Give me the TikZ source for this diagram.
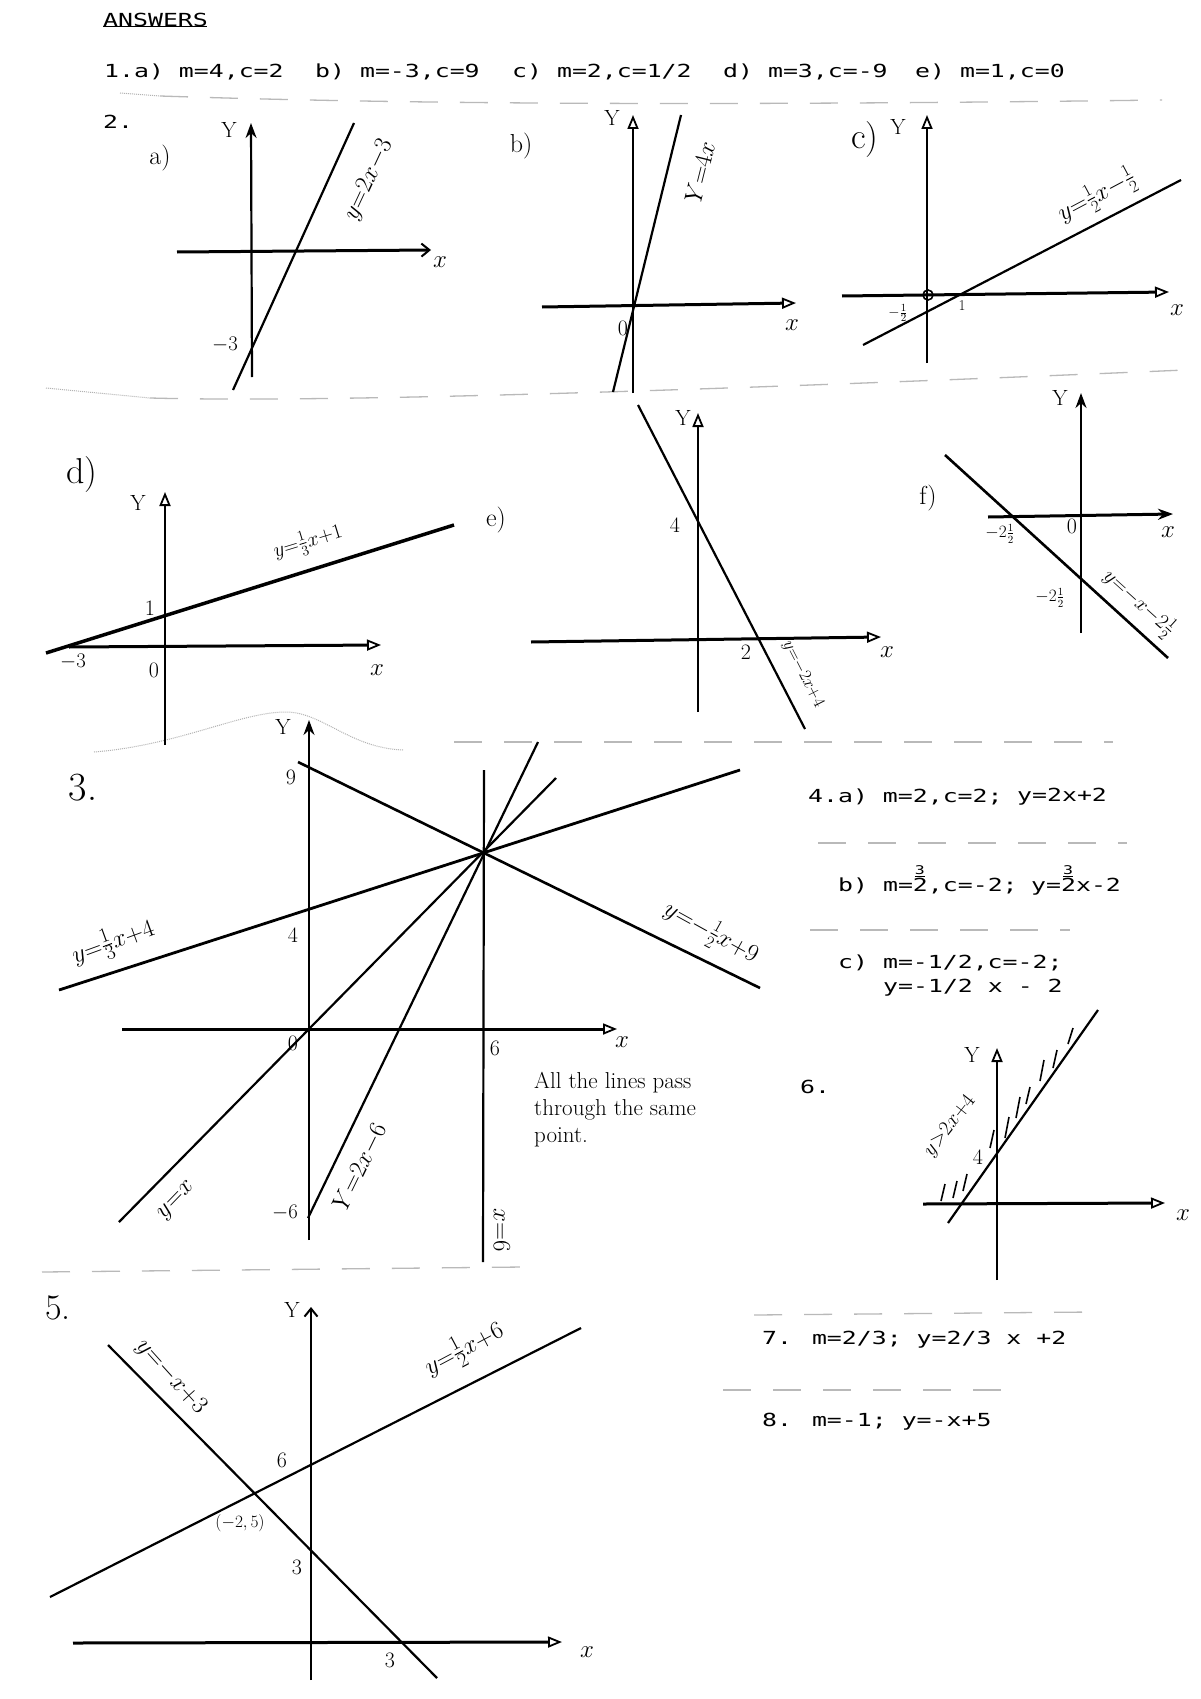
\documentclass[tikz,border=0pt]{standalone}
\usepackage{amsmath}
\usepackage{fontspec}
\usepackage{graphicx}
\newfontfamily\typed{DejaVu Sans Mono}
\usetikzlibrary{arrows.meta}
\newcommand\tx[1]{\scalebox{1.38}[1]{#1}}
\newcommand\tthree{\makebox[0pt][l]{\raisebox{0.95em}{\fontsize{12}{12}\selectfont\kern0.12em\underline{3}}}2}
\begin{document}
\begin{tikzpicture}[x=1pt,y=-1pt,
  ax/.style={line width=2.2pt},
  gl/.style={line width=2.2pt},
  otri/.style={-{Triangle[open,length=14pt,width=11pt,line width=1.8pt]}},
  ftri/.style={-{Stealth[length=15pt,width=11pt]}},
  barb/.style={-{Straight Barb[length=8pt,width=13pt,line width=2pt]}},
  sep/.style={gray!55,line width=1.3pt,dash pattern=on 28pt off 22pt},
  wav/.style={gray!60,line width=1pt,densely dotted},
  tt/.style={font=\typed\fontsize{18}{20}\selectfont,anchor=west,inner sep=0pt},
  hw/.style={font=\fontsize{22}{24}\selectfont,inner sep=0pt},
  hl/.style={font=\fontsize{26}{28}\selectfont,inner sep=0pt},
  big/.style={font=\fontsize{36}{38}\selectfont,inner sep=0pt},
  hat/.style={line width=1.6pt}]
\useasboundingbox (0,0) rectangle (1200,1699);
\fill[white] (0,0) rectangle (1200,1699);

% ---------- typed header ----------
\node[tt] (ans) at (103,20) {\tx{ANSWERS}};
\draw[line width=1pt] (ans.south west) ++(0,-1) -- ++(104,0);
\node[tt] (q1a) at (104,72) {\tx{1.a) m=4,c=2}};
\node[tt] (q1b) at (315,72) {\tx{b) m=-3,c=9}};
\node[tt] (q1c) at (512,72) {\tx{c) m=2,c=1/2}};
\node[tt] (q1d) at (723,72) {\tx{d) m=3,c=-9}};
\node[tt] (q1e) at (915,72) {\tx{e) m=1,c=0}};
\node[tt] (q2) at (103,122) {\tx{2.}};

% ---------- separators ----------
\draw[wav] (120,93) -- (160,96);
\draw[sep] (160,96) .. controls (400,104) and (700,106) .. (1162,100);
\draw[wav] (46,388) -- (150,398);
\draw[sep] (150,398) .. controls (300,402) and (600,395) .. (1185,370);
\draw[wav] (94,752) .. controls (180,745) and (240,712) .. (286,712) .. controls (322,712) and (350,748) .. (403,750);
\draw[sep] (454,742) -- (1113,742);
\draw[sep] (42,1272) -- (523,1267);
\draw[sep] (818,843) -- (1127,843);
\draw[sep] (810,930) -- (1070,930);
\draw[sep] (754,1315) -- (1092,1312);
\draw[sep] (723,1390) -- (1019,1390);

% ---------- 2 a ----------
\node[hl] (la) at (160,158) {a)};
\draw[ax,ftri] (252,377) -- (251,123);
\draw[ax,line width=3pt,barb] (177,252) -- (431,250);
\draw[gl] (233,390) -- (354,123);
\node[hw] (ya) at (229,130) {Y};
\node[hl] (xa) at (440,262) {$x$};
\node[hw] (ma) at (225,345) {$-3$};
\node[hl,rotate=65] (ea) at (369,180) {$y{=}2x{-}3$};

% ---------- 2 b ----------
\node[hl] (lb) at (521,146) {b)};
\draw[ax,otri] (633,393) -- (633,115);
\draw[ax,line width=3pt,otri] (542,307) -- (796,303);
\draw[gl] (613,392) -- (681,115);
\node[hw] (yb) at (612,118) {Y};
\node[hl] (xb) at (792,325) {$x$};
\node[hw] (ob) at (623,328) {0};
\node[hl,rotate=76] (eb) at (700,172) {$Y{=}4x$};

% ---------- 2 c ----------
\node[big] (lc) at (865,140) {c)};
\draw[ax,otri] (927,363) -- (927,115);
\draw[ax,line width=3pt,otri] (842,296) -- (1169,292);
\draw[gl] (863,345) -- (1181,180);
\draw[line width=1.6pt] (928,295) circle (5);
\node[hw] (yc) at (898,127) {Y};
\node[hl] (xc) at (1177,310) {$x$};
\node[font=\fontsize{15}{16}\selectfont,inner sep=0pt] (hc) at (898,313) {$-\frac12$};
\node[font=\fontsize{15}{16}\selectfont,inner sep=0pt] (oc) at (962,306) {1};
\node[hl,rotate=28] (ec) at (1097,196) {$y{=}\tfrac12x{-}\tfrac12$};

% ---------- 2 d ----------
\node[big] (ld) at (82,475) {d)};
\draw[ax,otri] (165,745) -- (165,492);
\draw[ax,line width=3pt,otri] (69,647) -- (381,645);
\draw[line width=3.5pt] (46,653) -- (454,525);
\node[hw] (yd) at (138,503) {Y};
\node[hl] (xd) at (377,670) {$x$};
\node[hw] (od) at (150,608) {1};
\node[hw] (md) at (73,662) {$-3$};
\node[hw] (zd) at (154,670) {0};
\node[hw,rotate=17] (ed) at (308,542) {$y{=}\tfrac13x{+}1$};

% ---------- 2 e ----------
\node[hl] (le) at (496,520) {e)};
\draw[ax,otri] (698,712) -- (698,413);
\draw[ax,line width=3pt,otri] (531,642) -- (881,637);
\draw[gl] (638,405) -- (805,729);
\node[hw] (ye) at (683,418) {Y};
\node[hl] (xe) at (887,652) {$x$};
\node[hw] (fe) at (675,525) {4};
\node[hw] (te) at (746,652) {2};
\node[font=\fontsize{18}{20}\selectfont,inner sep=0pt,rotate=-63] (ee) at (803,674) {$y{=}{-}2x{+}4$};

% ---------- 2 f ----------
\node[hl] (lf) at (928,498) {f)};
\draw[ax,ftri] (1081,633) -- (1081,393);
\draw[ax,line width=3pt,ftri] (988,517) -- (1173,514);
\draw[gl,line width=2.6pt] (945,455) -- (1168,658);
\node[hw] (yf) at (1060,398) {Y};
\node[hl] (xf) at (1168,532) {$x$};
\node[hw] (of) at (1072,526) {0};
\node[font=\fontsize{16}{18}\selectfont,inner sep=0pt] (mf1) at (1000,534) {$-2\frac12$};
\node[font=\fontsize{16}{18}\selectfont,inner sep=0pt] (mf2) at (1050,598) {$-2\frac12$};
\node[hw,rotate=-42] (ef) at (1139,603) {$y{=}{-}x{-}2\tfrac12$};

% ---------- 3 ----------
\node[font=\fontsize{40}{42}\selectfont,inner sep=0pt] (l3) at (83,788) {3.};
\draw[ax,ftri] (309,1240) -- (309,720);
\draw[ax,line width=3pt,otri] (122,1029) -- (617,1029);
\draw[gl] (483,1262) -- (484,770);
\coordinate (P) at (484,853);
\draw[gl] (119,1222) -- (556,778);
\draw[gl] (308,1218) -- (538,742);
\draw[line width=2.8pt] (59,990) -- (740,770);
\draw[gl,line width=2.6pt] (298,762) -- (760,988);
\node[hw] (y3) at (283,727) {Y};
\node[hl] (x3) at (622,1042) {$x$};
\node[hw] (n9) at (291,777) {9};
\node[hw] (n4) at (293,935) {4};
\node[hw] (n0) at (293,1043) {0};
\node[hw] (n6) at (495,1048) {6};
\node[hw] (nm6) at (285,1213) {$-6$};
\node[font=\fontsize{29}{31}\selectfont,inner sep=0pt,rotate=20] (e31) at (113,942) {$y{=}\tfrac13x{+}4$};
\node[font=\fontsize{27}{29}\selectfont,inner sep=0pt,rotate=-29] (e32) at (711,933) {$y{=}{-}\tfrac12x{+}9$};
\node[font=\fontsize{26}{28}\selectfont,inner sep=0pt,rotate=64] (e33) at (360,1167) {$Y{=}2x{-}6$};
\node[font=\fontsize{28}{30}\selectfont,inner sep=0pt,rotate=46] (e34) at (177,1201) {$y{=}x$};
\node[font=\fontsize{26}{28}\selectfont,inner sep=0pt,rotate=-90] (e35) at (502,1230) {$x{=}6$};
\node[font=\fontsize{23}{27}\selectfont,inner sep=0pt,anchor=north west,align=left] (note) at (534,1072) {All the lines pass\\through the same\\point.};

% ---------- 4 ----------
\node[tt] (q4a) at (808,797) {\tx{4.a) m=2,c=2;}};
\node[tt] (q4a2) at (1017,797) {\tx{y=2x+2}};
\node[tt] (q4b) at (838,880) {\tx{b) m=\tthree,c=-2;}};
\node[tt] (q4b2) at (1031,880) {\tx{y=\tthree x-2}};
\node[tt] (q4c) at (838,963) {\tx{c) m=-1/2,c=-2;}};
\node[tt] (q4c2) at (883,988) {\tx{y=-1/2 x - 2}};

% ---------- 6 ----------
\node[tt] (q6) at (800,1087) {\tx{6.}};
\draw[ax,otri] (997,1280) -- (997,1048);
\draw[ax,line width=3pt,otri] (923,1204) -- (1165,1203);
\draw[gl] (948,1223) -- (1098,1010);
\foreach \a/\b/\c/\d in {941/1201/945/1184, 953/1198/957/1181, 963/1191/967/1174,
  990/1148/994/1130, 1005/1138/1009/1117, 1016/1118/1020/1097, 1026/1104/1030/1087,
  1040/1081/1044/1060, 1053/1068/1057/1050, 1068/1044/1073/1028}
  \draw[hat] (\a,\b) -- (\c,\d);
\node[hw] (y6) at (972,1055) {Y};
\node[hl] (x6) at (1183,1215) {$x$};
\node[hw] (f6) at (978,1157) {4};
\node[hw,rotate=52] (e6) at (950,1126) {$y{>}2x{+}4$};

% ---------- 5 ----------
\node[big] (l5) at (58,1308) {5.};
\draw[ax,barb] (311,1680) -- (311,1307);
\draw[ax,line width=3pt,otri] (73,1643) -- (562,1642);
\draw[gl] (50,1597) -- (581,1328);
\draw[gl] (108,1345) -- (437,1678);
\node[hw] (y5) at (292,1310) {Y};
\node[hl] (x5) at (587,1652) {$x$};
\node[hw] (s6) at (282,1460) {6};
\node[hw] (s3) at (297,1567) {3};
\node[hw] (t3) at (390,1660) {3};
\node[font=\fontsize{18}{20}\selectfont,inner sep=0pt] (pt5) at (240,1523) {$(-2,5)$};
\node[font=\fontsize{25}{27}\selectfont,inner sep=0pt,rotate=-48] (e51) at (171,1377) {$y{=}{-}x{+}3$};
\node[font=\fontsize{32}{34}\selectfont,inner sep=0pt,rotate=28] (e52) at (464,1349) {$y{=}\tfrac12x{+}6$};

% ---------- 7, 8 ----------
\node[tt] (q7) at (762,1340) {\tx{7. m=2/3; y=2/3 x +2}};
\node[tt] (q8) at (762,1422) {\tx{8. m=-1; y=-x+5}};
\end{tikzpicture}
\end{document}
